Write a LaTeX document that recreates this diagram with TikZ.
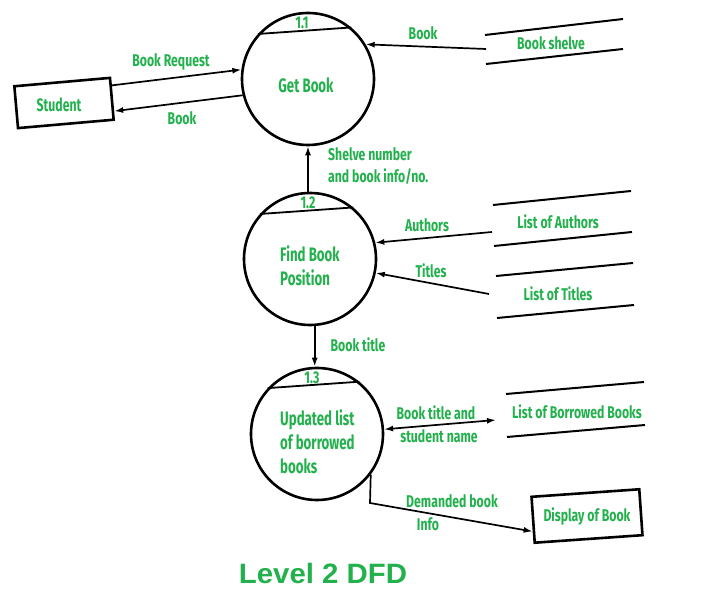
\documentclass[tikz,border=0pt]{standalone}
\usepackage{fontspec}
\usetikzlibrary{arrows.meta,calc}
\newfontfamily\labfont[FakeStretch=0.72]{Fira Sans}
\newfontfamily\proclabfont[FakeStretch=0.68]{Fira Sans}
\newfontfamily\ttlfont[FakeStretch=1.05]{Liberation Sans}
\definecolor{dfdgreen}{RGB}{34,177,76}
\begin{document}
\begin{tikzpicture}[x=1pt,y=-1pt,
  lab/.style={text=dfdgreen,font=\labfont\bfseries\fontsize{17}{20}\selectfont,inner sep=0pt},
  plab/.style={text=dfdgreen,font=\proclabfont\bfseries\fontsize{19.5}{24}\selectfont,inner sep=0pt},
  llab/.style={lab,anchor=west,align=left},
  lplab/.style={plab,anchor=west,align=left},
  proc/.style={circle,draw,line width=2.6pt,minimum size=132pt,inner sep=0pt},
  ext/.style={draw,line width=2.6pt,inner sep=0pt},
  store/.style={line width=2pt},
  flow/.style={line width=1.7pt,-{Latex[length=9pt,width=6pt]}},
  chord/.style={line width=1.8pt}]
\path[use as bounding box,fill=white] (0,0) rectangle (713,593);

% processes
\node[proc] (p1) at (308,79) {};
\node[proc] (p2) at (310,259) {};
\node[proc] (p3) at (317,434) {};
\draw[chord] (p1.138) -- (p1.50);
\draw[chord] (p2.138) -- (p2.50);
\draw[chord] (p3.137) -- (p3.51);
\node[lab] (n1) at (302,23) {1.1};
\node[lab] (n2) at (308,203) {1.2};
\node[lab] (n3) at (312,378) {1.3};
\node[plab] (t1) at (306,85) {Get Book};
\node[lplab] (t2) at (280,266) {Find Book\\Position};
\node[lplab] (t3) at (280,442) {Updated list\\of borrowed\\books};

% externals
\node[ext,rotate=5,minimum width=96pt,minimum height=42pt] (student) at (64,103) {};
\node[plab,font=\proclabfont\bfseries\fontsize{18}{22}\selectfont] (studentt) at (59,105) {Student};
\node[ext,rotate=4,minimum width=108pt,minimum height=46pt] (disp) at (587,516) {};
\node[lab] (dispt) at (587,516) {Display of Book};

% data stores
\draw[store] (485,35) -- (623,19);
\draw[store] (486,64) -- (623,49);
\node[lab] (s1) at (551,43) {Book shelve};
\draw[store] (493,205) -- (631,191);
\draw[store] (494,246) -- (632,232);
\node[lab] (s2) at (558,222) {List of Authors};
\draw[store] (496,276) -- (633,263);
\draw[store] (497,318) -- (634,305);
\node[lab] (s3) at (558,294) {List of Titles};
\draw[store] (506,394) -- (644,382);
\draw[store] (507,437) -- (645,425);
\node[lab] (s4) at (577,412) {List of Borrowed Books};

\coordinate (c1) at (486,49);
\coordinate (c2) at (492,232);
\coordinate (c3) at (489,294);
\coordinate (c4) at (496,420);
\coordinate (bend) at (370,503);

% flows
\draw[flow] ($(student.north east)!0.2!(student.south east)$) -- (p1.172);
\draw[flow] (p1.194) -- ($(student.north east)!0.78!(student.south east)$);
\draw[flow] (c1) -- (p1.31);
\draw[flow] (p1.south |- p2.north) -- (p1.south);
\draw[flow] (c2) -- (p2.14);
\draw[flow] (c3) -- (p2.348);
\draw[flow] (p2.274) -- (p2.274 |- p3.north);
\draw[line width=1.7pt,{Latex[length=9pt,width=6pt]}-{Latex[length=9pt,width=6pt]}] (p3.4) -- (c4);
\draw[flow] (p3.323) -- (bend) -- ($(disp.north west)!0.74!(disp.south west)$);

% flow labels
\node[lab] (f1) at (171,62) {Book Request};
\node[lab] (f2) at (182,118) {Book};
\node[lab] (f3) at (423,33) {Book};
\node[llab] (f4) at (328,166) {Shelve number\\[2pt]and book info/no.};
\node[lab] (f5) at (427,225) {Authors};
\node[lab] (f6) at (431,271) {Titles};
\node[lab] (f7) at (358,345) {Book title};
\node[lab] (f8) at (436,413) {Book title and};
\node[lab] (f9) at (439,436) {student name};
\node[lab] (f10) at (452,501) {Demanded book};
\node[lab] (f11) at (428,524) {Info};

\node[text=dfdgreen,font=\ttlfont\bfseries\fontsize{28}{32}\selectfont,inner sep=0pt] (title) at (323,573) {Level 2 DFD};
\end{tikzpicture}
\end{document}
